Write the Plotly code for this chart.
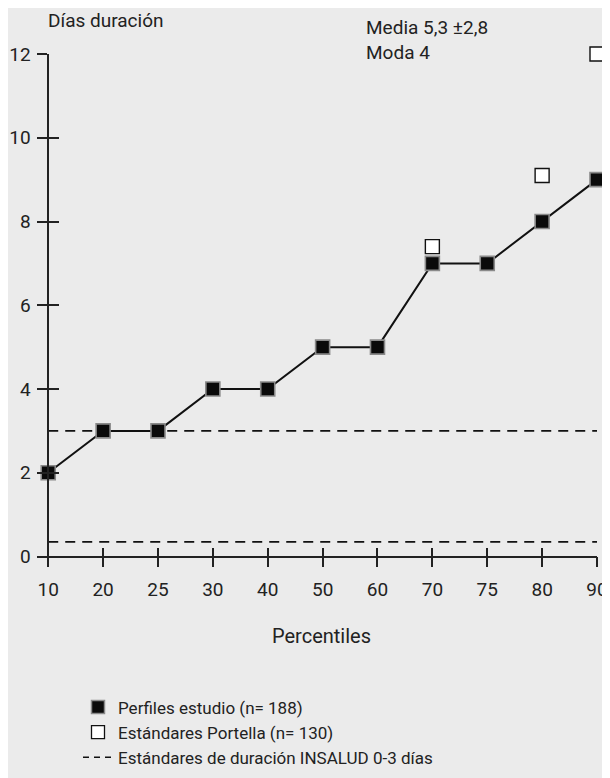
import plotly.graph_objects as go

# ---- data ----
percentiles = ["10", "20", "25", "30", "40", "50", "60", "70", "75", "80", "90"]
perfiles_estudio = [2, 3, 3, 4, 4, 5, 5, 7, 7, 8, 9]
portella_percentiles = ["70", "80", "90"]
portella_values = [7.4, 9.1, 12]
insalud_levels = [0.35, 3]
y_ticks = [0, 2, 4, 6, 8, 10, 12]

FONT = "Roboto, Liberation Sans, sans-serif"
BG = "#ebebeb"

OFF = 8  # page offset of the figure (body margin)
W, H = 610, 800
# desired page pixel positions
PLOT_LEFT, PLOT_RIGHT, PLOT_TOP, PLOT_BOTTOM = 40, 597, 54, 567.5
ML = PLOT_LEFT - OFF
MT = PLOT_TOP - OFF
MR = W - (PLOT_RIGHT - OFF)
MB = H - (PLOT_BOTTOM - OFF)
plot_w = PLOT_RIGHT - PLOT_LEFT
plot_h = PLOT_BOTTOM - PLOT_TOP

xr = [-0.15, len(percentiles) - 1]
yr = [-0.25, 12]
x_pos = (0 - xr[0]) / (xr[1] - xr[0])
y_pos = (0 - yr[0]) / (yr[1] - yr[0])


def px_to_paper(px, py):
    return (px - PLOT_LEFT) / plot_w, (PLOT_BOTTOM - py) / plot_h


fig = go.Figure()

# INSALUD standard lines
for lvl in insalud_levels:
    fig.add_trace(go.Scatter(
        x=[percentiles[0], percentiles[-1]], y=[lvl, lvl], mode="lines",
        line=dict(color="#111", width=1.6, dash="10px,7px"),
        showlegend=False, hoverinfo="skip"))

# Perfiles estudio
fig.add_trace(go.Scatter(
    x=percentiles, y=perfiles_estudio, mode="lines+markers",
    line=dict(color="#111", width=2),
    marker=dict(symbol="square", size=14, color="#0a0a0a",
                line=dict(color="#8a8a8a", width=1.6)),
    cliponaxis=False, showlegend=False))

# Portella
fig.add_trace(go.Scatter(
    x=portella_percentiles, y=portella_values, mode="markers",
    marker=dict(symbol="square", size=14, color="white",
                line=dict(color="#111", width=1.4)),
    cliponaxis=False, showlegend=False))

# legend-only traces
fig.add_trace(go.Scatter(
    x=[None], y=[None], mode="markers", name="Perfiles estudio (n= 188)",
    marker=dict(symbol="square", size=13, color="#0a0a0a",
                line=dict(color="#8a8a8a", width=1.5))))
fig.add_trace(go.Scatter(
    x=[None], y=[None], mode="markers", name="Estándares Portella (n= 130)",
    marker=dict(symbol="square", size=13, color="white",
                line=dict(color="#111", width=1.3))))
fig.add_trace(go.Scatter(
    x=[None], y=[None], mode="lines",
    name="Estándares de duración INSALUD 0-3 días",
    line=dict(color="#111", width=1.5, dash="6px,5px")))

# helper trace for overlay axes (inner tick halves)
fig.add_trace(go.Scatter(x=[None], y=[None], xaxis="x2", yaxis="y2",
                         showlegend=False, hoverinfo="skip"))

axis_font = dict(family=FONT, size=19, color="#222")

fig.update_layout(
    width=W, height=H,
    margin=dict(l=ML, r=MR, t=MT, b=MB),
    paper_bgcolor=BG, plot_bgcolor=BG,
    font=dict(family=FONT, color="#222"),
    xaxis=dict(type="category", categoryorder="array", categoryarray=percentiles,
               range=xr, anchor="free", position=y_pos, automargin=False,
               showline=True, linecolor="#222", linewidth=1.6,
               ticks="outside", ticklen=10, tickwidth=1.6, tickcolor="#222",
               showgrid=False, zeroline=False, tickfont=axis_font,
               ticklabelstandoff=6),
    yaxis=dict(range=yr, anchor="free", position=x_pos, automargin=False,
               tickvals=y_ticks, showline=True, linecolor="#222", linewidth=1.6,
               ticks="outside", ticklen=10, tickwidth=1.6, tickcolor="#222",
               showgrid=False, zeroline=False, tickfont=axis_font,
               ticklabelstandoff=3),
    xaxis2=dict(type="category", categoryorder="array", categoryarray=percentiles,
                matches="x", overlaying="x", anchor="free", position=y_pos,
                automargin=False,
                ticks="inside", ticklen=9, tickwidth=1.6, tickcolor="#222",
                showticklabels=False, showline=False, showgrid=False, zeroline=False),
    yaxis2=dict(matches="y", overlaying="y", anchor="free", position=x_pos,
                automargin=False,
                tickvals=y_ticks, ticks="inside", ticklen=10, tickwidth=1.6,
                tickcolor="#222", showticklabels=False, showline=False,
                showgrid=False, zeroline=False),
    legend=dict(x=px_to_paper(78, 0)[0], y=px_to_paper(0, 690)[1],
                xanchor="left", yanchor="top", bgcolor="rgba(0,0,0,0)",
                font=dict(family=FONT, size=17, color="#222"),
                tracegroupgap=0, itemwidth=30),
)

ann = []
x, y = px_to_paper(46, 20)
ann.append(dict(text="Días duración", x=x, y=y, xref="paper", yref="paper",
                xanchor="left", yanchor="middle", showarrow=False,
                font=dict(family=FONT, size=19, color="#222")))
x, y = px_to_paper(364, 27)
ann.append(dict(text="Media 5,3 ±2,8", x=x, y=y, xref="paper", yref="paper",
                xanchor="left", yanchor="middle", showarrow=False,
                font=dict(family=FONT, size=19, color="#222")))
x, y = px_to_paper(364, 52)
ann.append(dict(text="Moda 4", x=x, y=y, xref="paper", yref="paper",
                xanchor="left", yanchor="middle", showarrow=False,
                font=dict(family=FONT, size=19, color="#222")))
x, y = px_to_paper(322, 637)
ann.append(dict(text="Percentiles", x=x, y=y, xref="paper", yref="paper",
                xanchor="center", yanchor="middle", showarrow=False,
                font=dict(family=FONT, size=20, color="#222")))
fig.update_layout(annotations=ann)

fig.write_html("out.html")
